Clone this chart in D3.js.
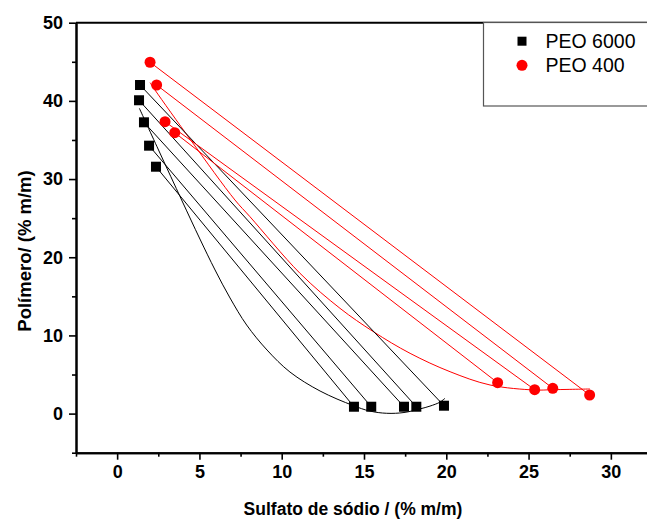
<!DOCTYPE html>
<html>
<head>
<meta charset="utf-8">
<script src="https://cdn.jsdelivr.net/npm/d3@7"></script>
<style>
  html, body { margin: 0; padding: 0; background: #fff; }
  svg { display: block; }
  text { font-family: "Liberation Sans", Arial, Helvetica, sans-serif; }
</style>
</head>
<body>
<svg id="chart" width="647" height="521"></svg>
<script>
// Tie-line end points (% m/m): polymer-rich phase (top) and salt-rich phase (bottom)
const peo6000Top = [
  { x: 1.39, y: 42.03 }, { x: 1.33, y: 40.08 }, { x: 1.63, y: 37.26 },
  { x: 1.94, y: 34.27 }, { x: 2.36, y: 31.58 }
];
const peo6000Bottom = [
  { x: 19.86, y: 1.01 }, { x: 18.18, y: 0.88 }, { x: 17.43, y: 0.88 },
  { x: 15.44, y: 0.88 }, { x: 14.39, y: 0.88 }
];
const peo400Top = [
  { x: 2.00, y: 44.94 }, { x: 2.40, y: 42.03 }, { x: 2.91, y: 37.34 }, { x: 3.50, y: 35.93 }
];
const peo400Bottom = [
  { x: 28.71, y: 2.38 }, { x: 26.47, y: 3.24 }, { x: 25.37, y: 3.06 }, { x: 23.12, y: 3.95 }
];

// Binodal curves
const peo6000Binodal = [
  [1.35, 39.05], [2.60, 33.33], [3.92, 27.32], [5.03, 22.33], [5.95, 18.37],
  [6.86, 14.79], [7.87, 11.33], [9.11, 8.13], [10.50, 5.32], [12.33, 2.89],
  [14.33, 1.04], [15.35, 0.33], [16.38, 0.04], [17.43, 0.14], [18.40, 0.60],
  [19.01, 0.96], [19.62, 1.47], [19.92, 1.96]
];
const peo400Binodal = [
  [2.00, 42.33], [2.30, 41.39], [4.49, 34.93], [7.16, 27.32], [8.07, 25.19],
  [11.11, 17.95], [13.54, 13.47], [15.57, 10.48], [17.80, 7.71], [20.23, 5.36],
  [22.66, 3.66], [25.37, 3.02], [26.48, 3.06], [28.73, 3.15]
];

// Axis ticks
const xMajorTicks = [0, 5, 10, 15, 20, 25, 30];
const xMinorTicks = [-2.5, 2.5, 7.5, 12.5, 17.5, 22.5, 27.5, 32.5];
const yMajorTicks = [0, 10, 20, 30, 40, 50];
const yMinorTicks = [-5, 5, 15, 25, 35, 45];

const seriesNames = ["PEO 6000", "PEO 400"];
const seriesColors = ["#000000", "#ff0000"];

const svg = d3.select("#chart");
const x = d3.scaleLinear().domain([-2.5, 32.5]).range([76, 652]);
const y = d3.scaleLinear().domain([-5, 50]).range([452.7, 22.7]);

const plot = svg.append("g");

// Frame lines
const frame = svg.append("g").attr("stroke", "#000").attr("stroke-width", 2).attr("fill", "none");
frame.append("line").attr("x1", x(-2.5)).attr("x2", x(32.5)).attr("y1", y(50)).attr("y2", y(50));
frame.append("line").attr("x1", x(32.5)).attr("x2", x(32.5)).attr("y1", y(50)).attr("y2", y(-5));

// Axes
function styleAxis(g) {
  g.select(".domain").attr("stroke-width", 2);
  g.selectAll(".tick line").attr("stroke-width", 1.6);
  g.selectAll("text")
    .attr("font-family", "'Liberation Sans', Arial, sans-serif")
    .attr("font-weight", "bold")
    .attr("font-size", 18)
    .attr("fill", "#000");
}

svg.append("g").attr("transform", `translate(0,${y(-5)})`)
  .call(d3.axisBottom(x).tickValues(xMinorTicks).tickSize(4).tickFormat("").tickSizeOuter(0))
  .call(styleAxis);
svg.append("g").attr("transform", `translate(0,${y(-5)})`)
  .call(d3.axisBottom(x).tickValues(xMajorTicks).tickSize(7).tickPadding(6).tickSizeOuter(0).tickFormat(d3.format("d")))
  .call(styleAxis);

svg.append("g").attr("transform", `translate(${x(-2.5)},0)`)
  .call(d3.axisLeft(y).tickValues(yMinorTicks).tickSize(4).tickFormat("").tickSizeOuter(0))
  .call(styleAxis);
svg.append("g").attr("transform", `translate(${x(-2.5)},0)`)
  .call(d3.axisLeft(y).tickValues(yMajorTicks).tickSize(7).tickPadding(6).tickSizeOuter(0).tickFormat(d3.format("d")))
  .call(styleAxis);

// Axis titles
svg.append("text")
  .attr("x", 353).attr("y", 515)
  .attr("text-anchor", "middle")
  .attr("font-weight", "bold").attr("font-size", 17.5)
  .text("Sulfato de sódio / (% m/m)");
svg.append("text")
  .attr("transform", "translate(31,251) rotate(-90)")
  .attr("text-anchor", "middle")
  .attr("font-weight", "bold").attr("font-size", 18.5)
  .text("Polímero/ (% m/m)");

// Binodal curves
const curveLine = d3.line().x(d => x(d[0])).y(d => y(d[1])).curve(d3.curveCatmullRom.alpha(0.5));
plot.append("path").datum(peo6000Binodal)
  .attr("d", curveLine).attr("fill", "none").attr("stroke", seriesColors[0]).attr("stroke-width", 1);
plot.append("path").datum(peo400Binodal)
  .attr("d", curveLine).attr("fill", "none").attr("stroke", seriesColors[1]).attr("stroke-width", 1);

// Tie lines
function tieLines(top, bottom, color) {
  plot.append("g").selectAll("line").data(top).join("line")
    .attr("x1", d => x(d.x)).attr("y1", d => y(d.y))
    .attr("x2", (d, i) => x(bottom[i].x)).attr("y2", (d, i) => y(bottom[i].y))
    .attr("stroke", color).attr("stroke-width", 1);
}
tieLines(peo6000Top, peo6000Bottom, seriesColors[0]);
tieLines(peo400Top, peo400Bottom, seriesColors[1]);

// Markers
const sq = 10;
plot.append("g").selectAll("rect").data(peo6000Top.concat(peo6000Bottom)).join("rect")
  .attr("x", d => x(d.x) - sq / 2).attr("y", d => y(d.y) - sq / 2)
  .attr("width", sq).attr("height", sq).attr("fill", seriesColors[0]);
plot.append("g").selectAll("circle").data(peo400Top.concat(peo400Bottom)).join("circle")
  .attr("cx", d => x(d.x)).attr("cy", d => y(d.y)).attr("r", 5.5).attr("fill", seriesColors[1]);

// Legend
const legend = svg.append("g");
legend.append("rect")
  .attr("x", 483.5).attr("y", 22.5).attr("width", 200).attr("height", 83.5)
  .attr("fill", "#fff").attr("stroke", "#555").attr("stroke-width", 1.2);
legend.append("rect").attr("x", 522 - 4.5).attr("y", 41.2 - 4.5).attr("width", 9).attr("height", 9).attr("fill", seriesColors[0]);
legend.append("circle").attr("cx", 522).attr("cy", 65.3).attr("r", 5.5).attr("fill", seriesColors[1]);
legend.selectAll("text.lbl").data(seriesNames).join("text")
  .attr("class", "lbl")
  .attr("x", 545.5).attr("y", (d, i) => 47.7 + i * 24)
  .attr("font-size", 19.5).attr("fill", "#000")
  .text(d => d);
</script>
</body>
</html>
